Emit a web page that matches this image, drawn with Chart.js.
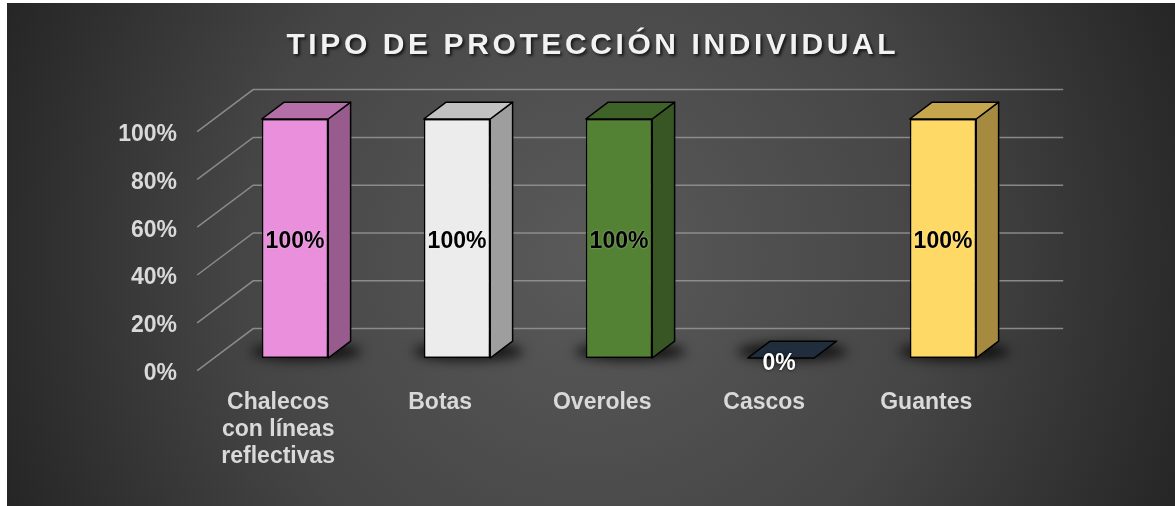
<!DOCTYPE html>
<html>
<head>
<meta charset="utf-8">
<script src="https://cdn.jsdelivr.net/npm/chart.js@4.4.1/dist/chart.umd.min.js"></script>
<style>
  html, body { margin: 0; padding: 0; background: #fff; }
</style>
</head>
<body>
<canvas id="chart" width="1175" height="506"></canvas>
<script>
// data
const chartTitle = 'TIPO DE PROTECCIÓN INDIVIDUAL';
const categories = [['Chalecos', 'con líneas', 'reflectivas'], 'Botas', 'Overoles', 'Cascos', 'Guantes'];
const values = [100, 100, 100, 0, 100];
const tickValues = [0, 20, 40, 60, 80, 100];

// bar colours: front, side, top
const frontColors = ['#e98fdc', '#ececec', '#548235', '#1f2d3d', '#ffd966'];
const sideColors = ['#985b8e', '#9e9e9e', '#375623', '#1f2d3d', '#a68a3f'];
const topColors = ['#b46ea8', '#c2c2c2', '#3f6228', '#1f2d3d', '#c6a54f'];

const FONT = "'Liberation Sans', Arial, sans-serif";
const LABEL_COLOR = '#d9d9d9';

// 3d projection of the floor depth
const DX = 56, DY = 42;
const BAR_FRONT = 0.3;  // where the bar front sits in the depth
const BAR_DEPTH = 0.4;  // how deep the bar is

const backgroundPlugin = {
  id: 'background',
  beforeDraw(chart) {
    const ctx = chart.ctx;
    const w = chart.width, h = chart.height;
    ctx.save();
    ctx.fillStyle = '#fff';
    ctx.fillRect(0, 0, w, h);
    const g = ctx.createRadialGradient(591, 255, 0, 591, 255, 640);
    g.addColorStop(0, '#5a5a5a');
    g.addColorStop(0.55, '#454545');
    g.addColorStop(1, '#252525');
    ctx.fillStyle = g;
    ctx.fillRect(7, 3, w - 7, h - 3);

    // title
    ctx.font = 'bold 30px ' + FONT;
    ctx.letterSpacing = '3.6px';
    ctx.textBaseline = 'alphabetic';
    ctx.textAlign = 'left';
    const tw = ctx.measureText(chartTitle).width - 3.6;
    ctx.shadowColor = 'rgba(0,0,0,0.7)';
    ctx.shadowOffsetX = 2;
    ctx.shadowOffsetY = 2;
    ctx.shadowBlur = 3;
    ctx.fillStyle = '#f2f2f2';
    ctx.fillText(chartTitle, 591 - tw / 2, 54);
    ctx.restore();
  }
};

const gridPlugin = {
  id: 'grid3d',
  beforeDatasetsDraw(chart) {
    const ctx = chart.ctx;
    const area = chart.chartArea;
    const ys = chart.scales.y;
    const fx = area.left - DX * BAR_FRONT;
    const bx = area.right - DX * BAR_FRONT + DX;
    ctx.save();
    ctx.strokeStyle = 'rgba(150,150,150,0.85)';
    ctx.lineWidth = 1.5;
    tickValues.forEach(v => {
      const yf = ys.getPixelForValue(v) + DY * BAR_FRONT;
      const yk = yf - DY;
      ctx.beginPath();
      ctx.moveTo(fx, yf);
      ctx.lineTo(fx + DX, yk);
      ctx.lineTo(bx, yk);
      ctx.stroke();
    });

    // soft floor shadows under the bars
    const meta = chart.getDatasetMeta(0);
    ctx.filter = 'blur(6px)';
    ctx.fillStyle = 'rgba(0,0,0,0.75)';
    meta.data.forEach(bar => {
      const cx = bar.x + DX * BAR_DEPTH / 2;
      const cy = bar.base - DY * BAR_DEPTH / 2 + 2;
      ctx.beginPath();
      ctx.ellipse(cx, cy, bar.width / 2 + 22, 9, 0, 0, Math.PI * 2);
      ctx.fill();
    });
    ctx.restore();
  }
};

const facesPlugin = {
  id: 'faces3d',
  afterDatasetsDraw(chart) {
    const ctx = chart.ctx;
    const meta = chart.getDatasetMeta(0);
    const bdx = DX * BAR_DEPTH, bdy = DY * BAR_DEPTH;
    ctx.save();
    ctx.strokeStyle = '#000';
    ctx.lineWidth = 1.5;
    ctx.lineJoin = 'round';
    meta.data.forEach((bar, i) => {
      const L = bar.x - bar.width / 2, R = bar.x + bar.width / 2;
      const T = bar.y, B = bar.base;
      if (B - T > 0.5) {
        // side
        ctx.beginPath();
        ctx.moveTo(R, T);
        ctx.lineTo(R + bdx, T - bdy);
        ctx.lineTo(R + bdx, B - bdy);
        ctx.lineTo(R, B);
        ctx.closePath();
        ctx.fillStyle = sideColors[i];
        ctx.fill();
        ctx.stroke();
      }
      // top
      ctx.beginPath();
      ctx.moveTo(L, T);
      ctx.lineTo(L + bdx, T - bdy);
      ctx.lineTo(R + bdx, T - bdy);
      ctx.lineTo(R, T);
      ctx.closePath();
      ctx.fillStyle = topColors[i];
      ctx.fill();
      ctx.stroke();
    });

    // value labels
    ctx.font = 'bold 23px ' + FONT;
    ctx.textAlign = 'center';
    ctx.textBaseline = 'middle';
    meta.data.forEach((bar, i) => {
      const txt = values[i] + '%';
      if (values[i] > 0) {
        ctx.fillStyle = '#000';
        ctx.shadowColor = 'rgba(255,255,255,0.5)';
        ctx.shadowBlur = 2;
        ctx.fillText(txt, bar.x, (bar.y + bar.base) / 2 + 3);
      } else {
        ctx.fillStyle = '#fff';
        ctx.shadowColor = 'rgba(0,0,0,0.8)';
        ctx.shadowBlur = 3;
        ctx.fillText(txt, bar.x - 2, bar.base + 6);
      }
    });
    ctx.restore();
  }
};

new Chart(document.getElementById('chart'), {
  type: 'bar',
  data: {
    labels: categories,
    datasets: [{
      data: values,
      backgroundColor: frontColors,
      borderColor: '#000',
      borderWidth: 1.5,
      borderSkipped: false,
      barPercentage: 0.41,
      categoryPercentage: 1
    }]
  },
  options: {
    responsive: false,
    animation: false,
    devicePixelRatio: 1,
    layout: { padding: { top: 119, right: 151, left: 0, bottom: 0 } },
    plugins: {
      legend: { display: false },
      title: { display: false },
      tooltip: { enabled: false }
    },
    scales: {
      x: {
        grid: { display: false },
        border: { display: false },
        ticks: {
          color: LABEL_COLOR,
          font: { family: FONT, size: 23, weight: 'bold', lineHeight: 1.18 },
          padding: 23,
          labelOffset: -DX * BAR_FRONT,
          maxRotation: 0,
          autoSkip: false
        },
        afterFit(scale) { scale.height = 148; }
      },
      y: {
        min: 0,
        max: 100,
        grid: { display: false, drawTicks: false },
        border: { display: false },
        ticks: {
          stepSize: 20,
          color: LABEL_COLOR,
          font: { family: FONT, size: 23, weight: 'bold' },
          padding: 37,
          labelOffset: DY * BAR_FRONT + 3,
          callback: v => v + '%'
        },
        afterFit(scale) { scale.width = 214; }
      }
    }
  },
  plugins: [backgroundPlugin, gridPlugin, facesPlugin]
});
</script>
</body>
</html>
